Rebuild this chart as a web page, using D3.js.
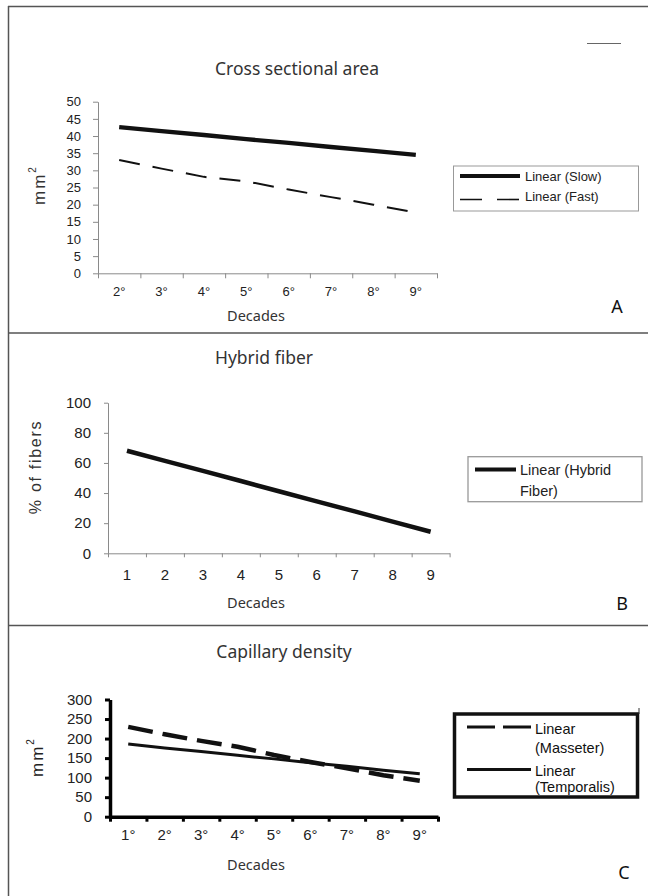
<!DOCTYPE html>
<html>
<head>
<meta charset="utf-8">
<script src="https://cdn.jsdelivr.net/npm/d3@7"></script>
<style>
  html, body { margin: 0; padding: 0; background: #fff; }
  svg { display: block; }
</style>
</head>
<body>
<svg id="chart" width="648" height="896"></svg>
<script>
// ---------- DATA ----------
const decadesA = ["2°", "3°", "4°", "5°", "6°", "7°", "8°", "9°"];
const slowA = [42.6, 41.4, 40.3, 39.1, 38.0, 36.8, 35.7, 34.5];
const fastA = [33.0, 30.5, 28.1, 26.8, 24.4, 22.2, 20.0, 17.7];
const yTicksA = [0, 5, 10, 15, 20, 25, 30, 35, 40, 45, 50];

const decadesB = ["1", "2", "3", "4", "5", "6", "7", "8", "9"];
const hybridB = [68.1, 61.4, 54.7, 48.0, 41.2, 34.5, 27.8, 21.0, 14.3];
const yTicksB = [0, 20, 40, 60, 80, 100];

const decadesC = ["1°", "2°", "3°", "4°", "5°", "6°", "7°", "8°", "9°"];
const masseterC = [230, 211, 194, 179, 158, 140, 124, 106, 92];
const temporalisC = [186, 176, 167, 157, 148, 138, 129, 119, 110];
const yTicksC = [0, 50, 100, 150, 200, 250, 300];

// ---------- SETUP ----------
const svg = d3.select("#chart");
const SANS = "'Noto Sans', 'Open Sans', sans-serif";
const ARIAL = "'Liberation Sans', Arial, sans-serif";

// frame lines
const frame = svg.append("g").attr("stroke", "#555").attr("stroke-width", 1.5);
frame.append("line").attr("x1", 8).attr("x2", 648).attr("y1", 6.5).attr("y2", 6.5);
frame.append("line").attr("x1", 8.5).attr("x2", 8.5).attr("y1", 6).attr("y2", 896);
frame.append("line").attr("x1", 8).attr("x2", 648).attr("y1", 333).attr("y2", 333);
frame.append("line").attr("x1", 8).attr("x2", 648).attr("y1", 625.5).attr("y2", 625.5);
svg.append("line").attr("x1", 587).attr("x2", 621).attr("y1", 43.5).attr("y2", 43.5)
  .attr("stroke", "#666").attr("stroke-width", 1);

function panel(cfg) {
  const g = svg.append("g");
  const x = d3.scaleBand().domain(cfg.cats).range([cfg.x0, cfg.x1]).padding(0);
  const xb = d3.scaleLinear().domain([0, cfg.cats.length]).range([cfg.x0, cfg.x1]);
  const y = d3.scaleLinear().domain([0, cfg.yMax]).range([cfg.yBot, cfg.yTop]);

  // y axis
  const ya = g.append("g").attr("transform", `translate(${cfg.x0},0)`)
    .call(d3.axisLeft(y).tickValues(cfg.yTicks).tickSize(cfg.tickLen).tickPadding(cfg.yPad).tickSizeOuter(0));
  ya.select(".domain").attr("stroke", cfg.axisColor).attr("stroke-width", cfg.axisW);
  ya.selectAll(".tick line").attr("stroke", cfg.axisColor).attr("stroke-width", cfg.tickW);
  ya.selectAll("text").attr("font-family", ARIAL).attr("font-size", cfg.tickFont).attr("fill", "#222");

  // x boundary ticks
  const xt = g.append("g").attr("transform", `translate(0,${cfg.yBot})`)
    .call(d3.axisBottom(xb).tickValues(d3.range(cfg.cats.length + 1)).tickSize(cfg.tickLen).tickFormat("").tickSizeOuter(0));
  xt.select(".domain").attr("stroke", cfg.axisColor).attr("stroke-width", cfg.axisW);
  xt.selectAll(".tick line").attr("stroke", cfg.axisColor).attr("stroke-width", cfg.tickW);

  // x labels
  const xl = g.append("g").attr("transform", `translate(0,${cfg.yBot})`)
    .call(d3.axisBottom(x).tickSize(0).tickPadding(cfg.xPad));
  xl.select(".domain").remove();
  xl.selectAll("text").attr("font-family", ARIAL).attr("font-size", cfg.tickFont).attr("fill", "#222");

  // series
  cfg.series.forEach(s => {
    const line = d3.line().x((d, i) => x(cfg.cats[i]) + x.bandwidth() / 2).y(d => y(d));
    g.append("path").datum(s.values).attr("d", line).attr("fill", "none")
      .attr("stroke", "#111").attr("stroke-width", s.width)
      .attr("stroke-dasharray", s.dash || null);
  });

  // title
  g.append("text").attr("x", cfg.titleX).attr("y", cfg.titleY).attr("text-anchor", "middle")
    .attr("font-family", SANS).attr("font-size", 17.5).attr("fill", "#333").text(cfg.title);
  // Decades
  g.append("text").attr("x", 256).attr("y", cfg.decY).attr("text-anchor", "middle")
    .attr("dominant-baseline", "central")
    .attr("font-family", SANS).attr("font-size", 14.5).attr("fill", "#333").text("Decades");
  // panel letter
  g.append("text").attr("x", cfg.letterX).attr("y", cfg.letterY).attr("text-anchor", "middle")
    .attr("font-family", SANS).attr("font-size", 18).attr("fill", "#111").text(cfg.letter);
  return { g, x, y };
}

// ---------- PANEL A ----------
const A = panel({
  cats: decadesA, x0: 98, x1: 437, yTop: 101.7, yBot: 273.3, yMax: 50, yTicks: yTicksA,
  tickLen: 5, yPad: 12, xPad: 13, tickFont: 13, axisColor: "#8a8a8a", axisW: 1, tickW: 1,
  series: [
    { values: slowA, width: 4.3 },
    { values: fastA, width: 2, dash: "21,13" }
  ],
  title: "Cross sectional area", titleX: 297, titleY: 75,
  decY: 315, letter: "A", letterX: 617, letterY: 313
});
// y label A
function mmLabel(x, yc, color) {
  const t = svg.append("text").attr("transform", `translate(${x},${yc}) rotate(-90)`)
    .attr("text-anchor", "middle").attr("dominant-baseline", "central")
    .attr("font-family", ARIAL).attr("font-size", 17).attr("fill", color)
    .attr("letter-spacing", 2);
  t.append("tspan").text("mm");
  t.append("tspan").attr("font-size", 10).attr("dy", -7).text("2");
}
mmLabel(39, 185, "#333");

// legend A
const legA = svg.append("g");
legA.append("rect").attr("x", 453.5).attr("y", 166).attr("width", 185).attr("height", 45)
  .attr("fill", "#fff").attr("stroke", "#999").attr("stroke-width", 1);
legA.append("line").attr("x1", 460).attr("x2", 520).attr("y1", 176).attr("y2", 176)
  .attr("stroke", "#111").attr("stroke-width", 4);
legA.append("line").attr("x1", 460).attr("x2", 519).attr("y1", 199.5).attr("y2", 199.5)
  .attr("stroke", "#111").attr("stroke-width", 1.6).attr("stroke-dasharray", "22,15");
legA.append("text").attr("x", 525).attr("y", 180.5).attr("font-family", ARIAL).attr("font-size", 13)
  .attr("fill", "#222").text("Linear (Slow)");
legA.append("text").attr("x", 525).attr("y", 201).attr("font-family", ARIAL).attr("font-size", 13)
  .attr("fill", "#222").text("Linear (Fast)");

// ---------- PANEL B ----------
const B = panel({
  cats: decadesB, x0: 108, x1: 449.6, yTop: 402.7, yBot: 553.3, yMax: 100, yTicks: yTicksB,
  tickLen: 4, yPad: 13, xPad: 16.5, tickFont: 15, axisColor: "#8a8a8a", axisW: 1, tickW: 1,
  series: [
    { values: hybridB, width: 4.5 }
  ],
  title: "Hybrid fiber", titleX: 264, titleY: 364,
  decY: 601.7, letter: "B", letterX: 622, letterY: 610
});
svg.append("text").attr("transform", "translate(35,467) rotate(-90)")
  .attr("text-anchor", "middle").attr("dominant-baseline", "central")
  .attr("font-family", ARIAL).attr("font-size", 16).attr("fill", "#333")
  .attr("letter-spacing", 1.7).text("% of fibers");

const legB = svg.append("g");
legB.append("rect").attr("x", 468).attr("y", 456.7).attr("width", 174).attr("height", 45)
  .attr("fill", "#fff").attr("stroke", "#999").attr("stroke-width", 1.3);
legB.append("line").attr("x1", 475).attr("x2", 516).attr("y1", 469.5).attr("y2", 469.5)
  .attr("stroke", "#111").attr("stroke-width", 4);
legB.append("text").attr("x", 520).attr("y", 474.5).attr("font-family", ARIAL).attr("font-size", 14.5)
  .attr("fill", "#222").text("Linear (Hybrid");
legB.append("text").attr("x", 520).attr("y", 495.5).attr("font-family", ARIAL).attr("font-size", 14.5)
  .attr("fill", "#222").text("Fiber)");

// ---------- PANEL C ----------
const C = panel({
  cats: decadesC, x0: 110, x1: 438, yTop: 699.5, yBot: 816.7, yMax: 300, yTicks: yTicksC,
  tickLen: 5, yPad: 13, xPad: 13, tickFont: 15, axisColor: "#000", axisW: 3.5, tickW: 3,
  series: [
    { values: temporalisC, width: 3 },
    { values: masseterC, width: 4.5, dash: "25,10" }
  ],
  title: "Capillary density", titleX: 284, titleY: 658,
  decY: 864, letter: "C", letterX: 624, letterY: 879
});
mmLabel(37, 757, "#222");

const legC = svg.append("g");
legC.append("rect").attr("x", 454.5).attr("y", 714).attr("width", 183).attr("height", 83)
  .attr("fill", "#fff").attr("stroke", "#111").attr("stroke-width", 3.5);
legC.append("line").attr("x1", 639).attr("x2", 639).attr("y1", 708).attr("y2", 714)
  .attr("stroke", "#333").attr("stroke-width", 1);
legC.append("line").attr("x1", 467).attr("x2", 531).attr("y1", 727).attr("y2", 727)
  .attr("stroke", "#111").attr("stroke-width", 3).attr("stroke-dasharray", "28,8");
legC.append("line").attr("x1", 467).attr("x2", 531).attr("y1", 769.5).attr("y2", 769.5)
  .attr("stroke", "#111").attr("stroke-width", 3);
[["Linear", 734], ["(Masseter)", 752.5], ["Linear", 775.5], ["(Temporalis)", 792]].forEach(([t, yy]) => {
  legC.append("text").attr("x", 535).attr("y", yy).attr("font-family", ARIAL).attr("font-size", 14.5)
    .attr("fill", "#111").text(t);
});
</script>
</body>
</html>
